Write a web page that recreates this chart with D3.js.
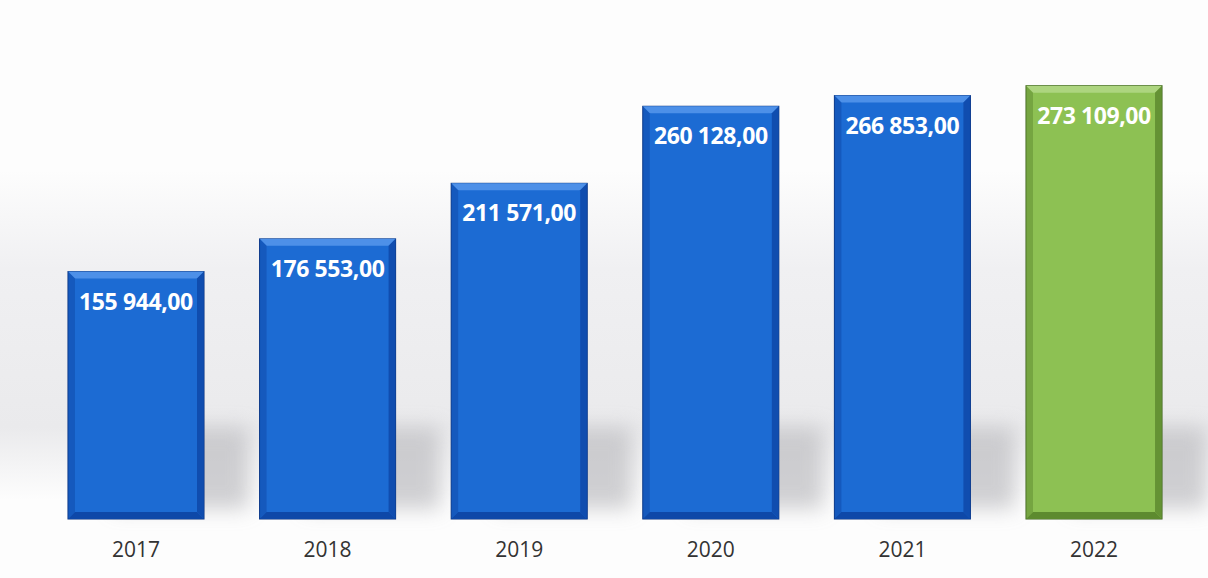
<!DOCTYPE html>
<html>
<head>
<meta charset="utf-8">
<script src="https://cdnjs.cloudflare.com/ajax/libs/d3/7.8.5/d3.min.js"></script>
<style>
  html, body { margin: 0; padding: 0; background: #fdfdfd; }
  svg { display: block; }
</style>
</head>
<body>
<div id="chart"></div>
<script>
(function() {
    'use strict';

    // data
    const years = ['2017', '2018', '2019', '2020', '2021', '2022'];
    const values = [155944, 176553, 211571, 260128, 266853, 273109];
    const labels = ['155 944,00', '176 553,00', '211 571,00', '260 128,00', '266 853,00', '273 109,00'];

    const width = 1208, height = 578;
    const margin = {top: 43, right: 18, bottom: 59, left: 40};

    const svg = d3.select('#chart').append('svg')
        .attr('width', width)
        .attr('height', height);

    const defs = svg.append('defs');

    // soft grey band behind the bars
    const band = defs.append('linearGradient').attr('id', 'band')
        .attr('x1', 0).attr('y1', 0).attr('x2', 0).attr('y2', 1);
    band.append('stop').attr('offset', '0%').attr('stop-color', '#fdfdfd');
    band.append('stop').attr('offset', '30%').attr('stop-color', '#f0f0f2');
    band.append('stop').attr('offset', '78%').attr('stop-color', '#eaeaec');
    band.append('stop').attr('offset', '100%').attr('stop-color', '#fdfdfd');

    defs.append('filter').attr('id', 'blur')
        .attr('x', '-50%').attr('y', '-50%').attr('width', '200%').attr('height', '200%')
        .append('feGaussianBlur').attr('stdDeviation', 10);

    svg.append('rect')
        .attr('x', 0).attr('y', 170)
        .attr('width', width).attr('height', 330)
        .attr('fill', 'url(#band)');

    const x = d3.scaleBand()
        .domain(years)
        .range([margin.left, width - margin.right])
        .paddingInner(0.29)
        .paddingOuter(0.146);

    const y = d3.scaleLinear()
        .domain([0, 300000])
        .range([height - margin.bottom, margin.top]);

    const colors = years.map((d, i) => i === years.length - 1
        ? {main: '#8dc153', light: '#add57f', dark: '#5d8a2f', edge: '#3f6420'}
        : {main: '#1c6bd3', light: '#4d90e8', dark: '#0e48a8', edge: '#0a3480'});

    const data = years.map((d, i) => ({year: d, value: values[i], label: labels[i], c: colors[i]}));

    // shadows cast behind the bars
    svg.append('g').selectAll('rect')
        .data(data)
        .enter().append('rect')
        .attr('x', d => x(d.year) + 45)
        .attr('y', y(0) - 92)
        .attr('width', x.bandwidth())
        .attr('height', 82)
        .attr('fill', '#bdbdc1')
        .attr('opacity', 0.7)
        .attr('filter', 'url(#blur)');

    const bevel = 7;
    const bars = svg.append('g').selectAll('g')
        .data(data)
        .enter().append('g');

    bars.append('rect')
        .attr('x', d => x(d.year))
        .attr('y', d => y(d.value))
        .attr('width', x.bandwidth())
        .attr('height', d => y(0) - y(d.value))
        .attr('fill', d => d.c.main)
        .attr('stroke', d => d.c.edge)
        .attr('stroke-width', 1);

    // top bevel
    bars.append('polygon')
        .attr('points', d => {
            const x0 = x(d.year), x1 = x0 + x.bandwidth(), t = y(d.value);
            return [[x0, t], [x1, t], [x1 - bevel, t + bevel], [x0 + bevel, t + bevel]].join(' ');
        })
        .attr('fill', d => d.c.light);

    // bottom bevel
    bars.append('polygon')
        .attr('points', d => {
            const x0 = x(d.year), x1 = x0 + x.bandwidth(), b = y(0);
            return [[x0, b], [x1, b], [x1 - bevel, b - bevel], [x0 + bevel, b - bevel]].join(' ');
        })
        .attr('fill', d => d.c.dark);

    // right bevel
    bars.append('polygon')
        .attr('points', d => {
            const x1 = x(d.year) + x.bandwidth(), t = y(d.value), b = y(0);
            return [[x1, t], [x1, b], [x1 - bevel, b - bevel], [x1 - bevel, t + bevel]].join(' ');
        })
        .attr('fill', d => d.c.dark)
        .attr('opacity', 0.85);

    // left bevel
    bars.append('polygon')
        .attr('points', d => {
            const x0 = x(d.year), t = y(d.value), b = y(0);
            return [[x0, t], [x0, b], [x0 + bevel, b - bevel], [x0 + bevel, t + bevel]].join(' ');
        })
        .attr('fill', d => d.c.dark)
        .attr('opacity', 0.5);

    // value labels
    bars.append('text')
        .attr('x', d => x(d.year) + x.bandwidth() / 2)
        .attr('y', d => y(d.value) + 38)
        .attr('text-anchor', 'middle')
        .attr('font-family', '"Open Sans", "DejaVu Sans", sans-serif')
        .attr('font-weight', 'bold')
        .attr('font-size', '23px')
        .attr('fill', '#fff')
        .attr('letter-spacing', '-0.4px')
        .text(d => d.label);

    // x axis labels
    const xAxis = svg.append('g')
        .attr('transform', `translate(0,${y(0)})`)
        .call(d3.axisBottom(x).tickSize(0).tickPadding(23));
    xAxis.select('.domain').remove();
    xAxis.selectAll('text')
        .attr('font-family', '"Open Sans", sans-serif')
        .attr('font-size', '21px')
        .attr('fill', '#333');
})();
</script>
</body>
</html>
